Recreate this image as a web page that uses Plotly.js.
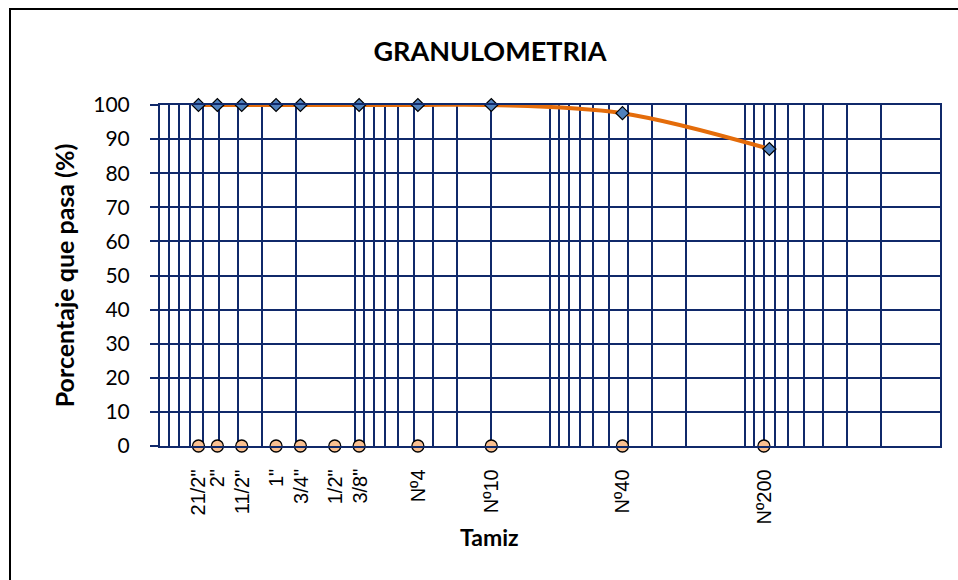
<!DOCTYPE html>
<html>
<head>
<meta charset="utf-8">
<script src="https://cdn.plot.ly/plotly-3.0.1.min.js"></script>
<style>
  html, body { margin: 0; padding: 0; background: #fff; }
  #chart { width: 958px; height: 580px; position: relative; }
  #frame { position: absolute; left: 9px; top: 8px; width: 1200px; height: 1200px;
           border-left: 2px solid #000; border-top: 2px solid #000; pointer-events: none; }
</style>
</head>
<body>
<div id="chart"></div>
<div id="frame"></div>
<script>
// Sieve names, openings (mm) and % passing
const sieveLabels = ['21/2"', '2"', '11/2"', '1"', '3/4"', '1/2"', '3/8"', 'Nº4', 'Nº10', 'Nº40', 'Nº200'];
const sieveOpenings = [63.5, 50.8, 38.1, 25.4, 19.05, 12.7, 9.525, 4.76, 2.0, 0.425, 0.075];
const percentPassing = [100, 100, 100, 100, 100, null, 100, 100, 100, 97.6, 87.1];
// Label (baseline) series: position of each sieve marker at 0 %
const labelOpenings = [63.5, 50.8, 38.1, 25.4, 19.05, 12.7, 9.525, 4.76, 2.0, 0.425, 0.08];
const labelBaseline = [0, 0, 0, 0, 0, 0, 0, 0, 0, 0, 0];

const gridColor = '#10296a';

// points with a measured value
const curveX = [], curveY = [];
sieveOpenings.forEach((v, i) => {
  if (percentPassing[i] !== null) { curveX.push(v); curveY.push(percentPassing[i]); }
});

// log grid lines 1..9 x 10^k
const gridVals = [];
for (let k = -2; k <= 1; k++) for (let d = 1; d <= 9; d++) gridVals.push(d * Math.pow(10, k));
gridVals.push(100);

const traces = [
  { x: curveX, y: curveY, type: 'scatter', mode: 'lines',
    line: { color: '#E46C0A', width: 4, shape: 'spline', smoothing: 1 },
    hoverinfo: 'skip', showlegend: false },
  { x: curveX, y: curveY, type: 'scatter', mode: 'markers',
    marker: { symbol: 'diamond', size: 10, color: '#4F81BD', line: { color: '#000', width: 1.2 } },
    cliponaxis: false, showlegend: false },
  { x: labelOpenings, y: labelBaseline, type: 'scatter', mode: 'markers',
    marker: { symbol: 'circle', size: 12, color: '#FAC090', line: { color: '#000', width: 1.3 } },
    cliponaxis: false, showlegend: false }
];

const annotations = sieveLabels.map((t, i) => ({
  text: t, x: Math.log10(labelOpenings[i]), xref: 'x', y: 0, yref: 'paper',
  yshift: -21, yanchor: 'top', xanchor: 'center', textangle: -90, showarrow: false,
  font: { family: 'Liberation Sans, Arial, sans-serif', size: 20, color: '#000' }
}));
annotations.push({
  text: '<b>Tamiz</b>', xref: 'paper', yref: 'paper',
  x: (489 - 160) / 780, y: 0, yshift: -75, yanchor: 'top', xanchor: 'center', showarrow: false,
  font: { family: 'Lato, sans-serif', size: 23, color: '#000' }
});

const layout = {
  width: 958, height: 580,
  margin: { l: 160, r: 18, t: 105, b: 134, pad: 0 },
  paper_bgcolor: '#fff', plot_bgcolor: '#fff',
  title: { text: '<b>GRANULOMETRIA</b>', x: 490 / 958, xref: 'container', xanchor: 'center',
           y: 1 - 52 / 580, yref: 'container', yanchor: 'middle',
           font: { family: 'Lato, sans-serif', size: 27, color: '#000' } },
  xaxis: { type: 'log', range: [2, -2], tickvals: gridVals, showticklabels: false, ticks: '',
           showgrid: true, gridcolor: gridColor, gridwidth: 2,
           showline: true, linecolor: gridColor, linewidth: 2, mirror: true, zeroline: false },
  yaxis: { range: [0, 100], dtick: 10, tick0: 0, ticks: 'outside', ticklen: 8, tickwidth: 2,
           tickcolor: gridColor, showgrid: true, gridcolor: gridColor, gridwidth: 2,
           zeroline: false, showline: true, linecolor: gridColor, linewidth: 2, mirror: true,
           ticklabelstandoff: 16,
           tickfont: { family: 'Lato, sans-serif', size: 21, color: '#000' },
           title: { text: '<b>Porcentaje que pasa (%)</b>', standoff: 12,
                    font: { family: 'Lato, sans-serif', size: 25, color: '#000' } } },
  annotations: annotations,
  showlegend: false
};

Plotly.newPlot('chart', traces, layout, { displayModeBar: false, staticPlot: true });
</script>
</body>
</html>
